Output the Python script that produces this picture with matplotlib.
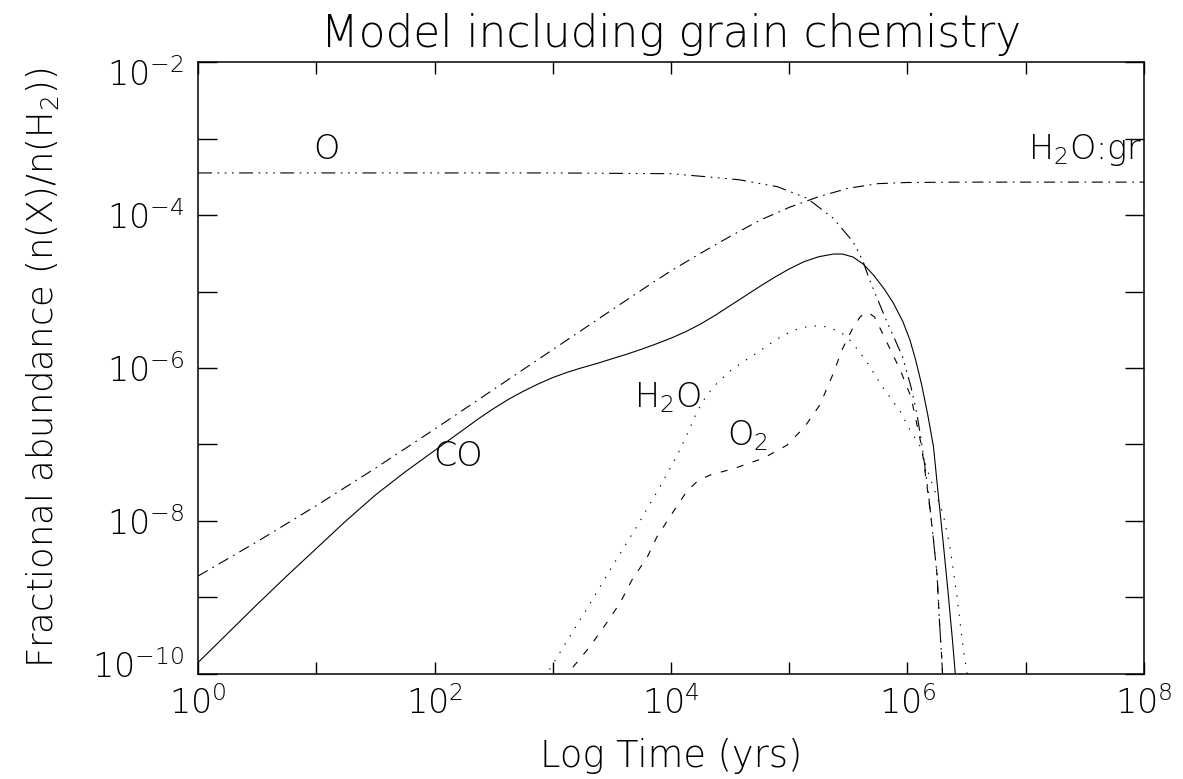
import numpy as np
import matplotlib
matplotlib.use("Agg")
import matplotlib.pyplot as plt
from matplotlib.transforms import ScaledTranslation

# values, as log10(time / yr) and log10(abundance)
co_logt = [0.0, 0.25, 0.5, 0.75, 1.0, 1.25, 1.5, 1.75, 2.0, 2.125, 2.25, 2.375, 2.5, 2.625,
           2.75, 2.875, 3.0, 3.125, 3.25, 3.375, 3.5, 3.625, 3.75, 3.875, 4.0, 4.125, 4.25,
           4.375, 4.5, 4.625, 4.75, 4.875, 5.0, 5.125, 5.25, 5.375, 5.45, 5.54, 5.625, 5.71,
           5.8, 5.88, 5.96, 6.02, 6.07, 6.12, 6.17, 6.22, 6.26, 6.3, 6.34, 6.38, 6.41]
co_logx = [-9.85, -9.47, -9.09, -8.72, -8.36, -8.0, -7.66, -7.36, -7.08, -6.94, -6.8, -6.66,
           -6.53, -6.41, -6.305, -6.21, -6.125, -6.055, -5.995, -5.94, -5.88, -5.82, -5.755,
           -5.685, -5.61, -5.525, -5.425, -5.31, -5.185, -5.06, -4.935, -4.815, -4.705, -4.61,
           -4.545, -4.51, -4.51, -4.55, -4.64, -4.78, -4.96, -5.15, -5.39, -5.63, -5.9, -6.22,
           -6.6, -7.03, -7.65, -8.25, -8.88, -9.55, -10.1]

o_logt = [0.0, 1.0, 2.0, 3.0, 4.0, 4.3, 4.58, 4.9, 5.15, 5.37, 5.54, 5.62, 5.68, 5.76, 5.83,
          5.9, 5.96, 6.03, 6.08, 6.12, 6.17, 6.21, 6.25, 6.27, 6.29, 6.3]
o_logx = [-3.45, -3.45, -3.45, -3.45, -3.46, -3.5, -3.54, -3.63, -3.78, -4.04, -4.35, -4.59,
          -4.85, -5.15, -5.41, -5.65, -5.86, -6.25, -6.6, -6.98, -7.55, -8.1, -8.7, -9.3,
          -9.8, -10.1]

h2ogr_logt = [0.0, 0.5, 1.0, 1.5, 2.0, 2.5, 3.0, 3.5, 3.82, 4.0, 4.25, 4.5, 4.75, 5.0, 5.25,
              5.5, 5.75, 6.0, 6.5, 8.0]
h2ogr_logx = [-8.72, -8.27, -7.8, -7.31, -6.8, -6.28, -5.76, -5.24, -4.91, -4.73, -4.5, -4.28,
              -4.07, -3.9, -3.76, -3.65, -3.59, -3.575, -3.57, -3.57]

h2o_logt = [2.93, 3.1, 3.3, 3.5, 3.7, 3.9, 4.05, 4.15, 4.22, 4.3, 4.4, 4.5, 4.62, 4.73, 4.85,
            4.95, 5.07, 5.18, 5.28, 5.37, 5.45, 5.51, 5.58, 5.66, 5.79, 5.94, 6.02, 6.11, 6.16,
            6.22, 6.3, 6.36, 6.42, 6.47, 6.5, 6.52]
h2o_logx = [-10.05, -9.62, -9.12, -8.6, -8.1, -7.57, -7.15, -6.82, -6.57, -6.36, -6.18, -6.04,
            -5.91, -5.8, -5.67, -5.57, -5.49, -5.45, -5.45, -5.49, -5.55, -5.63, -5.76, -5.93,
            -6.25, -6.57, -6.81, -7.03, -7.3, -7.56, -7.9, -8.34, -9.0, -9.65, -9.95, -10.2]

o2_logt = [3.1, 3.15, 3.31, 3.43, 3.57, 3.67, 3.8, 3.88, 4.01, 4.13, 4.23, 4.33, 4.54, 4.78,
           4.98, 5.13, 5.26, 5.37, 5.45, 5.54, 5.6, 5.66, 5.72, 5.79, 5.94, 6.03, 6.12, 6.17,
           6.21, 6.25, 6.27, 6.29, 6.3]
o2_logx = [-10.1, -9.95, -9.65, -9.39, -9.07, -8.77, -8.47, -8.21, -7.9, -7.62, -7.47, -7.4,
           -7.31, -7.18, -7.01, -6.77, -6.48, -6.08, -5.75, -5.47, -5.33, -5.27, -5.33, -5.55,
           -6.03, -6.38, -7.03, -7.6, -8.1, -8.7, -9.3, -9.8, -10.1]

xtick_exp = list(range(0, 9))
ytick_exp = list(range(-10, -1))

plt.rcParams["lines.scale_dashes"] = False
plt.rcParams["font.family"] = ["DejaVu Sans"]
plt.rcParams["font.weight"] = "light"
plt.rcParams["axes.titleweight"] = "light"
plt.rcParams["axes.labelweight"] = "light"
plt.rcParams["mathtext.fontset"] = "custom"
plt.rcParams["mathtext.rm"] = "DejaVu Sans:light"
plt.rcParams["mathtext.it"] = "DejaVu Sans:light"
plt.rcParams["mathtext.default"] = "regular"

fig = plt.figure(figsize=(11.83, 7.79), dpi=100)
ax = fig.add_axes([0.1674, 0.1348, 0.7996, 0.7856])

lw = 0.8
ax.plot(np.power(10.0, o_logt), np.power(10.0, o_logx), color="black", lw=lw,
        linestyle=(0, (10, 4, 1.2, 4, 1.2, 4, 1.2, 4)))
ax.plot(np.power(10.0, h2ogr_logt), np.power(10.0, h2ogr_logx), color="black", lw=lw,
        linestyle=(0, (8, 4, 1.2, 4)))
ax.plot(np.power(10.0, co_logt), np.power(10.0, co_logx), color="black", lw=lw, linestyle="-")
ax.plot(np.power(10.0, h2o_logt), np.power(10.0, h2o_logx), color="black", lw=lw,
        linestyle=(0, (1, 6)))
ax.plot(np.power(10.0, o2_logt), np.power(10.0, o2_logx), color="black", lw=lw,
        linestyle=(0, (5, 7)))

ax.set_xscale("log")
ax.set_yscale("log")
ax.set_xlim(1, 1e8)
ax.set_ylim(1e-10, 1e-2)

ax.set_xticks([10.0 ** e for e in xtick_exp])
ax.set_xticklabels([r"$10^{%d}$" % e if e % 2 == 0 else "" for e in xtick_exp])
ax.set_yticks([10.0 ** e for e in ytick_exp])
ax.set_yticklabels([r"$10^{%d}$" % e if e % 2 == 0 else "" for e in ytick_exp])
ax.minorticks_off()
ax.tick_params(axis="x", which="major", direction="in", length=8.6, width=1.0,
               top=True, labelsize=24, pad=9)
ax.tick_params(axis="y", which="major", direction="in", length=13.5, width=1.0,
               right=True, labelsize=24, pad=10)
for s in ax.spines.values():
    s.set_linewidth(1.1)

# the end labels of the y axis sit inside the axis range, as in the original
ylabels = ax.yaxis.get_majorticklabels()
ylabels[0].set_transform(ylabels[0].get_transform()
                         + ScaledTranslation(0, 0.1, fig.dpi_scale_trans))
ylabels[-1].set_transform(ylabels[-1].get_transform()
                          + ScaledTranslation(0, -0.1, fig.dpi_scale_trans))

ax.set_title("Model including grain chemistry", fontsize=31.5, pad=11)
ax.set_xlabel("Log Time (yrs)", fontsize=26.5)
ax.xaxis.set_label_coords(0.5, -0.105)
ax.set_ylabel("Fractional abundance (n(X)/n(H$_2$))", fontsize=25.5)
ax.yaxis.set_label_coords(-0.145, 0.5)

ax.text(10 ** 1.09, 10 ** -3.15, "O", fontsize=24, ha="center", va="center")
ax.text(10 ** 7.99, 10 ** -3.15, "H$_2$O:gr", fontsize=24, ha="right", va="center")
ax.text(10 ** 2.2, 10 ** -7.16, "CO", fontsize=24, ha="center", va="center")
ax.text(10 ** 3.97, 10 ** -6.39, "H$_2$O", fontsize=24, ha="center", va="center")
ax.text(10 ** 4.65, 10 ** -6.88, "O$_2$", fontsize=24, ha="center", va="center")

fig.savefig("out.png", dpi=100)
